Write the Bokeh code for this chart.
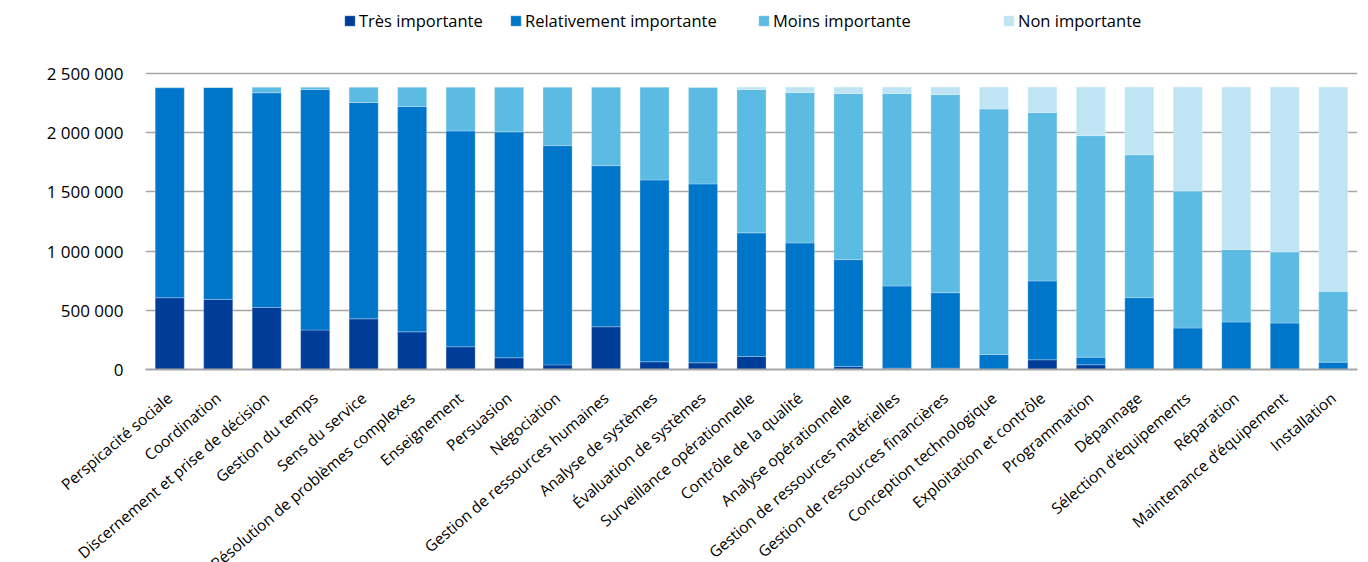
from bokeh.plotting import figure
from bokeh.models import FactorRange, Range1d, Legend, LegendItem, CustomJSTickFormatter, FixedTicker
from bokeh.embed import file_html
from bokeh.resources import INLINE

categories = ["Perspicacité sociale", "Coordination", "Discernement et prise de décision",
              "Gestion du temps", "Sens du service", "Résolution de problèmes complexes",
              "Enseignement", "Persuasion", "Négociation", "Gestion de ressources humaines",
              "Analyse de systèmes", "Évaluation de systèmes", "Surveillance opérationnelle",
              "Contrôle de la qualité", "Analyse opérationnelle", "Gestion de ressources matérielles",
              "Gestion de ressources financières", "Conception technologique",
              "Exploitation et contrôle", "Programmation", "Dépannage", "Sélection d’équipements",
              "Réparation", "Maintenance d’équipement", "Installation"]

tres = [606000, 592000, 524000, 333000, 428000, 318000, 192000, 99000, 39000, 361000,
        65000, 56000, 110000, 0, 25000, 11000, 11000, 0, 82000, 40000, 0, 0, 0, 0, 0]
relativement = [1774000, 1790000, 1813000, 2032000, 1827000, 1903000, 1823000, 1908000, 1852000, 1361000,
                1536000, 1511000, 1044000, 1069000, 903000, 694000, 638000, 127000, 666000, 64000,
                607000, 350000, 401000, 392000, 62000]
moins = [5000, 3000, 48000, 20000, 130000, 164000, 370000, 378000, 494000, 663000,
         784000, 816000, 1211000, 1270000, 1403000, 1626000, 1673000, 2074000, 1422000, 1871000,
         1207000, 1157000, 612000, 601000, 598000]
non = [0, 0, 0, 0, 0, 0, 0, 0, 0, 0,
       0, 2000, 20000, 46000, 54000, 54000, 63000, 184000, 215000, 410000,
       571000, 878000, 1372000, 1392000, 1725000]

series_names = ["Très importante", "Relativement importante", "Moins importante", "Non importante"]
colors = ["#003D99", "#0076CA", "#5CBBE3", "#BFE5F4"]
y_ticks = [0, 500000, 1000000, 1500000, 2000000, 2500000]

data = {"cat": categories, "s0": tres, "s1": relativement, "s2": moins, "s3": non}

# frame extends above the top gridline to leave room for the legend
y_top = 2500000 * 364 / 296

p = figure(x_range=FactorRange(factors=categories, range_padding=0),
           y_range=Range1d(0, y_top),
           frame_width=1212, frame_height=364, output_backend="svg", toolbar_location=None,
           min_border_left=145, min_border_right=3, min_border_top=5, min_border_bottom=185)

rs = p.vbar_stack(["s0", "s1", "s2", "s3"], x="cat", width=0.6, color=colors,
                  line_color="white", line_alpha=0.25, line_width=1, source=data)

p.outline_line_color = None
p.xgrid.grid_line_color = None
p.ygrid.grid_line_color = "#A6A6A6"
p.ygrid.grid_line_width = 1.5

p.yaxis.ticker = FixedTicker(ticks=y_ticks)
p.yaxis.formatter = CustomJSTickFormatter(code="return tick.toFixed(0).replace(/\\B(?=(\\d{3})+(?!\\d))/g, ' ');")
p.yaxis.axis_line_color = None
p.yaxis.major_tick_line_color = None
p.yaxis.minor_tick_line_color = None
p.yaxis.major_label_text_font = "Open Sans"
p.yaxis.major_label_text_font_size = "17px"
p.yaxis.major_label_text_color = "#000000"
p.yaxis.major_label_standoff = 16

p.xaxis.axis_line_color = "#A6A6A6"
p.xaxis.axis_line_width = 2
p.xaxis.major_tick_line_color = None
p.xaxis.minor_tick_line_color = None
p.xaxis.major_label_orientation = 0.707
p.xaxis.major_label_text_font = "Open Sans"
p.xaxis.major_label_text_font_size = "15.5px"
p.xaxis.major_label_text_color = "#000000"
p.xaxis.major_label_standoff = 20

legend_x = [198, 364, 612, 857]
for name, r, lx in zip(series_names, rs, legend_x):
    lg = Legend(items=[LegendItem(label=name, renderers=[r])],
                orientation="horizontal", location=(lx, 337),
                border_line_color=None, background_fill_color=None,
                label_text_font="Open Sans", label_text_font_size="16.5px",
                label_text_color="#000000",
                glyph_width=13, glyph_height=13, label_standoff=3,
                margin=0, padding=0)
    p.add_layout(lg)

open("out.html", "w").write(file_html(p, INLINE))
